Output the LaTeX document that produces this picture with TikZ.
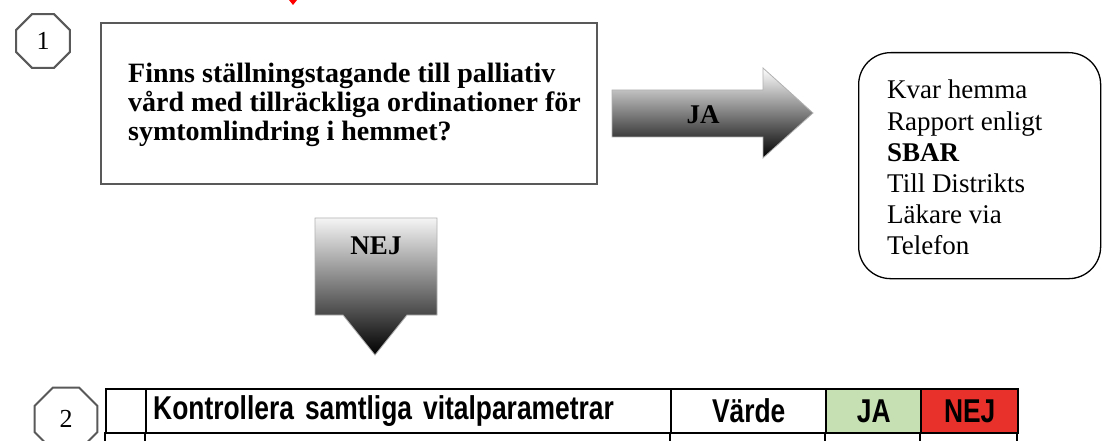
\documentclass[tikz,border=0pt]{standalone}
\usepackage{fontspec}
\setmainfont{Liberation Serif}
\newfontfamily\narrowsans[FakeStretch=0.8,WordSpace=0.75]{Liberation Sans}
\usetikzlibrary{shapes.geometric}
\definecolor{jagreen}{RGB}{198,224,180}
\definecolor{nejred}{RGB}{232,49,43}

\begin{document}
\begin{tikzpicture}[x=1pt,y=-1pt,
    step_node/.style={regular polygon,regular polygon sides=8,draw=gray!70!black,line width=2pt,inner sep=0pt,font=\fontsize{26}{28}\selectfont},
    cell/.style={draw=black,line width=2.4pt,minimum height=44pt,inner sep=0pt,anchor=north west,font=\narrowsans\bfseries\fontsize{33}{35}\selectfont},
    block_arrow/.style={draw=gray!60,line width=0.8pt}]
    \clip (0,0) rectangle (1104,441);
    \fill[white] (0,0) rectangle (1104,441);
    \fill[red] (289,0) -- (297,0) -- (293,5) -- cycle;
    % step 1
    \node[step_node,minimum size=58pt] (s1) at (43,41) {1};
    \node[draw=gray!70!black,line width=1.6pt,minimum width=496pt,minimum height=161pt,anchor=north west] (q1) at (100,22) {};
    \node[anchor=north west,align=left,inner sep=0pt,font=\bfseries\fontsize{28}{29}\selectfont] (q1text) at (128,63)
        {Finns ställningstagande till palliativ\\vård med tillräckliga ordinationer för\\symtomlindring i hemmet?};
    \node[draw,line width=1.3pt,rounded corners=32pt,minimum width=242pt,minimum height=226pt,anchor=north west] (home) at (858,52) {};
    \node[anchor=north west,align=left,inner sep=0pt,font=\fontsize{27}{31.2}\selectfont] (hometext) at (887,80)
        {Kvar hemma\\Rapport enligt\\\textbf{SBAR}\\Till Distrikts\\Läkare via\\Telefon};
    % block arrows
    \shade[block_arrow,top color=white,bottom color=black] (612,90) -- (763,90) -- (763,68) -- (813,113)
        -- (763,158) -- (763,137) -- (612,137) -- cycle;
    \node[font=\bfseries\fontsize{27}{29}\selectfont] (ja) at (703,115) {JA};
    \shade[block_arrow,top color=gray!8,middle color=gray!40,bottom color=black] (315,218) -- (437,218) -- (437,315)
        -- (407,315) -- (375,355) -- (343,315) -- (315,315) -- cycle;
    \node[font=\bfseries\fontsize{27}{29}\selectfont] (nej) at (376,246) {NEJ};
    % step 2
    \node[step_node,minimum size=68pt] (s2) at (66,419) {2};
    \node[cell,minimum width=40pt] (c0) at (105,388) {};
    \node[cell,minimum width=525pt,text width=511pt,inner xsep=7pt,align=left] (c1) at (145,388) {Kontrollera samtliga vitalparametrar};
    \node[cell,minimum width=155pt] (c2) at (670,388) {Värde};
    \node[cell,minimum width=95pt,fill=jagreen] (c3) at (825,388) {JA};
    \node[cell,minimum width=97pt,fill=nejred] (c4) at (920,388) {NEJ};
    \foreach \x in {105,145,670,825,920,1017}
        \draw[line width=2.4pt] (\x,432) -- (\x,445);
\end{tikzpicture}
\end{document}
